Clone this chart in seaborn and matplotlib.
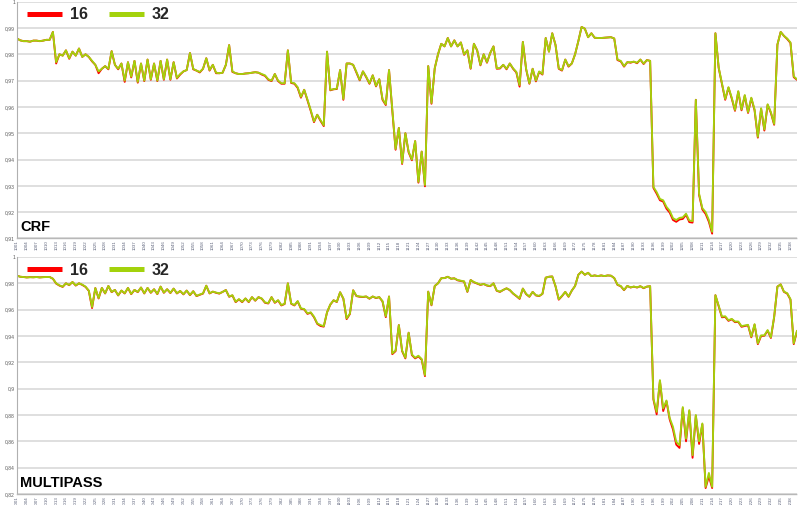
import matplotlib
matplotlib.use("Agg")
import matplotlib.pyplot as plt
from matplotlib.lines import Line2D
from matplotlib.font_manager import FontProperties
import seaborn as sns
import pandas as pd

# ---------------- data ----------------
frames = list(range(1001, 1241))
series_names = ["16", "32"]

crf_32 = [
    0.986, 0.9853, 0.985, 0.985, 0.9848, 0.9852, 0.9852, 0.985, 0.9852, 0.9855,
    0.9855, 0.9885, 0.977, 0.980, 0.9795, 0.9815, 0.9785, 0.981, 0.9795, 0.9822,
    0.979, 0.980, 0.979, 0.9775, 0.976, 0.9735, 0.9745, 0.9755, 0.9745, 0.9812,
    0.976, 0.9745, 0.9765, 0.970, 0.977, 0.9715, 0.9775, 0.9695, 0.9765, 0.970,
    0.978, 0.9705, 0.9765, 0.970, 0.9775, 0.9705, 0.978, 0.9705, 0.977, 0.971,
    0.9725, 0.9735, 0.974, 0.9805, 0.9745, 0.9738, 0.9733, 0.9745, 0.9785, 0.974,
    0.976, 0.973, 0.9728, 0.973, 0.976, 0.9835, 0.9735, 0.9728, 0.9725, 0.9725,
    0.9727, 0.9728, 0.973, 0.9732, 0.973, 0.9725, 0.972, 0.9705, 0.970, 0.9725,
    0.970, 0.969, 0.969, 0.9815, 0.9693, 0.969, 0.9675, 0.9638, 0.9665, 0.9628,
    0.9588, 0.9545, 0.957, 0.955, 0.953, 0.981, 0.9665, 0.9667, 0.967, 0.974,
    0.963, 0.9765, 0.9765, 0.976, 0.9733, 0.9703, 0.9735, 0.9715, 0.969, 0.972,
    0.968, 0.9705, 0.963, 0.961, 0.974, 0.9588, 0.944, 0.952, 0.9386, 0.950,
    0.943, 0.940, 0.947, 0.9315, 0.943, 0.9303, 0.9755, 0.9615, 0.9747, 0.980,
    0.984, 0.983, 0.9862, 0.983, 0.9853, 0.983, 0.9845, 0.980, 0.9815, 0.9747,
    0.984, 0.9815, 0.976, 0.980, 0.977, 0.9805, 0.983, 0.9747, 0.9748, 0.976,
    0.9745, 0.9765, 0.9747, 0.9733, 0.9683, 0.9847, 0.9745, 0.969, 0.9745, 0.970,
    0.9735, 0.9725, 0.9862, 0.981, 0.988, 0.9836, 0.9747, 0.974, 0.978, 0.9755,
    0.9765, 0.980, 0.985, 0.9904, 0.9897, 0.9865, 0.988, 0.9863, 0.9862, 0.9862,
    0.9863, 0.9864, 0.9865, 0.986, 0.978, 0.9775, 0.9755, 0.977, 0.977, 0.9772,
    0.9768, 0.978, 0.9765, 0.9778, 0.9775, 0.9296, 0.9276, 0.925, 0.9245, 0.922,
    0.9205, 0.9177, 0.917, 0.9178, 0.918, 0.9194, 0.9168, 0.9166, 0.9627, 0.927,
    0.9215, 0.920, 0.917, 0.9125, 0.988, 0.975, 0.969, 0.963, 0.9675, 0.9635,
    0.9588, 0.966, 0.959, 0.9645, 0.958, 0.9635, 0.959, 0.9486, 0.9595, 0.9514,
    0.961, 0.958, 0.9535, 0.9837, 0.9885, 0.987, 0.986, 0.9845, 0.9716, 0.9705,
]

crf_16 = [
    0.986, 0.9853, 0.985, 0.985, 0.9848, 0.9852, 0.9852, 0.985, 0.9852, 0.9855,
    0.9855, 0.9885, 0.9765, 0.980, 0.9795, 0.9815, 0.9783, 0.981, 0.9795, 0.9822,
    0.979, 0.980, 0.979, 0.9773, 0.976, 0.9728, 0.9745, 0.9755, 0.9743, 0.9812,
    0.976, 0.9743, 0.9765, 0.9695, 0.977, 0.9712, 0.9775, 0.9692, 0.9765, 0.9698,
    0.978, 0.9703, 0.9765, 0.9698, 0.9775, 0.9703, 0.978, 0.9703, 0.977, 0.9708,
    0.9723, 0.9735, 0.974, 0.9805, 0.9743, 0.9738, 0.9731, 0.9745, 0.9785, 0.9738,
    0.976, 0.9728, 0.9728, 0.973, 0.976, 0.9835, 0.9733, 0.9728, 0.9725, 0.9725,
    0.9727, 0.9728, 0.973, 0.9732, 0.973, 0.9723, 0.9718, 0.9703, 0.9698, 0.9725,
    0.9698, 0.9688, 0.9688, 0.9815, 0.9691, 0.9688, 0.9672, 0.9635, 0.9665, 0.9625,
    0.9585, 0.9542, 0.957, 0.9547, 0.9527, 0.981, 0.9663, 0.9667, 0.9668, 0.974,
    0.9627, 0.9765, 0.9765, 0.976, 0.9731, 0.9701, 0.9735, 0.9713, 0.9688, 0.972,
    0.9678, 0.9705, 0.9627, 0.9607, 0.974, 0.9585, 0.9437, 0.952, 0.9383, 0.950,
    0.9427, 0.9397, 0.947, 0.9312, 0.943, 0.9298, 0.9755, 0.9612, 0.9747, 0.980,
    0.984, 0.983, 0.9862, 0.983, 0.9853, 0.983, 0.9845, 0.9798, 0.9815, 0.9745,
    0.984, 0.9815, 0.9758, 0.980, 0.9768, 0.9805, 0.983, 0.9745, 0.9746, 0.976,
    0.9743, 0.9765, 0.9745, 0.9731, 0.9677, 0.9847, 0.9743, 0.9688, 0.9745, 0.9697,
    0.9733, 0.9723, 0.9862, 0.981, 0.988, 0.9836, 0.9745, 0.9738, 0.978, 0.9753,
    0.9765, 0.980, 0.985, 0.9904, 0.9897, 0.9865, 0.988, 0.9863, 0.9862, 0.9862,
    0.9863, 0.9864, 0.9865, 0.986, 0.9778, 0.9773, 0.9753, 0.977, 0.9768, 0.9772,
    0.9766, 0.978, 0.9763, 0.9778, 0.9775, 0.9292, 0.927, 0.9245, 0.924, 0.9213,
    0.9198, 0.917, 0.9163, 0.9172, 0.9174, 0.919, 0.9162, 0.916, 0.9627, 0.9265,
    0.921, 0.9193, 0.9163, 0.9118, 0.988, 0.9748, 0.9688, 0.9627, 0.9673, 0.9632,
    0.9585, 0.9658, 0.9587, 0.9643, 0.9577, 0.9633, 0.9587, 0.9483, 0.9593, 0.951,
    0.9608, 0.9577, 0.9532, 0.9837, 0.9885, 0.987, 0.9858, 0.9843, 0.9713, 0.9703,
]

mp_32 = [
    0.9858, 0.985, 0.9848, 0.9845, 0.9847, 0.9846, 0.9848, 0.9845, 0.9847, 0.9848,
    0.9848, 0.9835, 0.980, 0.9785, 0.9775, 0.980, 0.9788, 0.981, 0.9785, 0.980,
    0.979, 0.9775, 0.9745, 0.962, 0.9764, 0.9688, 0.9765, 0.9725, 0.978, 0.9735,
    0.975, 0.971, 0.9745, 0.9725, 0.9765, 0.972, 0.975, 0.9735, 0.9768, 0.9725,
    0.9765, 0.973, 0.9755, 0.972, 0.9775, 0.973, 0.9755, 0.9728, 0.976, 0.9725,
    0.9742, 0.9718, 0.9745, 0.9712, 0.974, 0.9705, 0.9715, 0.9724, 0.9782, 0.9725,
    0.9737, 0.973, 0.9724, 0.9735, 0.9749, 0.970, 0.971, 0.966, 0.968, 0.966,
    0.9685, 0.966, 0.9695, 0.967, 0.9695, 0.9685, 0.9655, 0.965, 0.9695, 0.9655,
    0.9672, 0.9635, 0.9645, 0.980, 0.9648, 0.9635, 0.9665, 0.961, 0.9605, 0.9572,
    0.958, 0.9547, 0.9496, 0.9483, 0.9475, 0.958, 0.964, 0.9671, 0.966, 0.9732,
    0.9685, 0.9534, 0.957, 0.9747, 0.9705, 0.970, 0.9698, 0.970, 0.9685, 0.970,
    0.969, 0.9695, 0.9665, 0.955, 0.970, 0.9268, 0.929, 0.9483, 0.929, 0.9235,
    0.9425, 0.926, 0.9235, 0.925, 0.9225, 0.9103, 0.9737, 0.9636, 0.978, 0.980,
    0.9839, 0.984, 0.985, 0.9835, 0.9838, 0.9825, 0.982, 0.9815, 0.9737, 0.9825,
    0.981, 0.980, 0.979, 0.9795, 0.9785, 0.978, 0.980, 0.9745, 0.9737, 0.975,
    0.9762, 0.975, 0.9724, 0.9705, 0.9686, 0.976, 0.972, 0.970, 0.9735, 0.971,
    0.9705, 0.972, 0.9843, 0.985, 0.9852, 0.978, 0.968, 0.9705, 0.9735, 0.970,
    0.9745, 0.978, 0.9865, 0.9889, 0.9865, 0.988, 0.9855, 0.986, 0.9855, 0.986,
    0.9855, 0.986, 0.9858, 0.984, 0.979, 0.978, 0.975, 0.978, 0.977, 0.9775,
    0.977, 0.9778, 0.9765, 0.9775, 0.9778, 0.8926, 0.8824, 0.9065, 0.885, 0.891,
    0.8776, 0.871, 0.8596, 0.8571, 0.886, 0.862, 0.8837, 0.8495, 0.880, 0.860,
    0.8736, 0.8254, 0.836, 0.8254, 0.971, 0.963, 0.9547, 0.955, 0.952, 0.953,
    0.951, 0.951, 0.9475, 0.948, 0.9485, 0.9395, 0.949, 0.9344, 0.9405, 0.9405,
    0.9445, 0.939, 0.9547, 0.9775, 0.9792, 0.9737, 0.9725, 0.968, 0.9344, 0.944,
]

mp_16 = [
    0.9858, 0.985, 0.9848, 0.9845, 0.9847, 0.9846, 0.9848, 0.9845, 0.9847, 0.9848,
    0.9848, 0.9835, 0.9798, 0.9783, 0.9773, 0.980, 0.9786, 0.981, 0.9783, 0.980,
    0.9788, 0.9773, 0.9743, 0.9612, 0.9764, 0.9685, 0.9765, 0.9723, 0.978, 0.9733,
    0.975, 0.9708, 0.9745, 0.9723, 0.9765, 0.9718, 0.975, 0.9733, 0.9768, 0.9723,
    0.9765, 0.9728, 0.9755, 0.9718, 0.9775, 0.9728, 0.9755, 0.9726, 0.976, 0.9723,
    0.9742, 0.9716, 0.9745, 0.971, 0.974, 0.9703, 0.9713, 0.9722, 0.9782, 0.9723,
    0.9737, 0.9728, 0.9722, 0.9735, 0.9749, 0.9698, 0.9708, 0.9657, 0.9678, 0.9657,
    0.9685, 0.9657, 0.9695, 0.9668, 0.9695, 0.9683, 0.9652, 0.9647, 0.9695, 0.9652,
    0.967, 0.9632, 0.9643, 0.980, 0.9645, 0.9632, 0.9663, 0.9607, 0.9602, 0.9568,
    0.9577, 0.9543, 0.9492, 0.9476, 0.9471, 0.958, 0.9638, 0.9671, 0.9658, 0.9732,
    0.9683, 0.9528, 0.9567, 0.9747, 0.9703, 0.9698, 0.9696, 0.970, 0.9683, 0.970,
    0.9688, 0.9695, 0.9662, 0.9543, 0.970, 0.9262, 0.9285, 0.9483, 0.9285, 0.923,
    0.9425, 0.9255, 0.923, 0.9245, 0.922, 0.9095, 0.9737, 0.9633, 0.978, 0.980,
    0.9839, 0.984, 0.985, 0.9835, 0.9838, 0.9823, 0.9818, 0.9813, 0.9735, 0.9825,
    0.9808, 0.9798, 0.9788, 0.9795, 0.9783, 0.9778, 0.980, 0.9743, 0.9735, 0.975,
    0.9762, 0.9748, 0.9722, 0.9703, 0.9682, 0.976, 0.9718, 0.9698, 0.9735, 0.9708,
    0.9703, 0.972, 0.9843, 0.985, 0.9852, 0.9778, 0.9676, 0.9703, 0.9735, 0.9698,
    0.9745, 0.978, 0.9865, 0.9889, 0.9865, 0.988, 0.9855, 0.986, 0.9855, 0.986,
    0.9855, 0.986, 0.9858, 0.984, 0.9788, 0.9778, 0.9748, 0.978, 0.9768, 0.9775,
    0.9768, 0.9778, 0.9763, 0.9775, 0.9778, 0.8918, 0.8805, 0.9058, 0.883, 0.8905,
    0.8765, 0.869, 0.8575, 0.855, 0.8852, 0.860, 0.883, 0.8475, 0.8795, 0.858,
    0.873, 0.8245, 0.8335, 0.8245, 0.971, 0.9627, 0.9542, 0.9545, 0.9515, 0.9527,
    0.9505, 0.9507, 0.947, 0.9476, 0.9481, 0.939, 0.9486, 0.9338, 0.94, 0.9402,
    0.944, 0.9385, 0.9543, 0.9775, 0.9792, 0.9735, 0.9722, 0.9676, 0.9338, 0.9437,
]

crf_yticks = [0.91, 0.92, 0.93, 0.94, 0.95, 0.96, 0.97, 0.98, 0.99, 1.0]
crf_ylabels = ["0,91", "0,92", "0,93", "0,94", "0,95", "0,96", "0,97", "0,98", "0,99", "1"]
mp_yticks = [0.82, 0.84, 0.86, 0.88, 0.90, 0.92, 0.94, 0.96, 0.98, 1.0]
mp_ylabels = ["0,82", "0,84", "0,86", "0,88", "0,9", "0,92", "0,94", "0,96", "0,98", "1"]
panel_titles = ["CRF", "MULTIPASS"]

# ---------------- style ----------------
sns.set_style("white")
plt.rcParams["font.family"] = ["Liberation Sans", "DejaVu Sans"]

colors = {"16": "#ff0000", "32": "#a3d20c"}

fig = plt.figure(figsize=(8, 5.05), dpi=100)
ax1 = fig.add_axes([17 / 800, 1 - 238.4 / 505, 780 / 800, 236.7 / 505])
ax2 = fig.add_axes([17 / 800, 1 - 494 / 505, 780 / 800, 237 / 505])


def make_df(s16, s32):
    return pd.DataFrame({
        "frame": frames * 2,
        "ssim": list(s16) + list(s32),
        "preset": ["16"] * len(frames) + ["32"] * len(frames),
    })


panels = [
    (ax1, make_df(crf_16, crf_32), crf_yticks, crf_ylabels, (0.91, 1.0), panel_titles[0], 0.944),
    (ax2, make_df(mp_16, mp_32), mp_yticks, mp_ylabels, (0.82, 1.0), panel_titles[1], 0.945),
]

leg_font = FontProperties(family=["Liberation Sans", "DejaVu Sans"], weight="bold", size=11.5)
title_font = FontProperties(family=["Liberation Sans", "DejaVu Sans"], weight="bold", size=10.5)

for ax, df, yt, yl, ylim, title, leg_y in panels:
    sns.lineplot(data=df, x="frame", y="ssim", hue="preset",
                 hue_order=series_names, palette=colors,
                 linewidth=1.35, legend=False, ax=ax)
    ax.set_xlim(frames[0], frames[-1])
    ax.set_ylim(*ylim)
    ax.set_yticks(yt)
    ax.set_yticklabels(yl, fontsize=3.6, color="#5a5a5a")
    ax.set_xticks(frames[::3])
    ax.set_xticklabels([str(f) for f in frames[::3]], rotation=90,
                       fontsize=3.2, color="#5a6078")
    ax.tick_params(axis="both", length=0, pad=1.5)
    ax.set_xlabel("")
    ax.set_ylabel("")
    ax.grid(axis="y", color="#d9d9d9", linewidth=1.2)
    ax.grid(axis="x", visible=False)
    ax.set_axisbelow(True)
    for side in ["top", "right"]:
        ax.spines[side].set_visible(False)
    ax.spines["left"].set_color("#b0b0b0")
    ax.spines["left"].set_linewidth(0.8)
    ax.spines["bottom"].set_color("#b8b8b8")
    ax.spines["bottom"].set_linewidth(1.0)
    ax.spines["bottom"].set_linestyle((0, (1, 1)))

    handles = [Line2D([], [], color=colors[n], linewidth=3.6, solid_capstyle="butt")
               for n in series_names]
    ax.legend(handles, series_names, loc="center left",
              bbox_to_anchor=(0.0125, leg_y), ncol=2, frameon=False,
              handlelength=2.2, handletextpad=0.5, columnspacing=1.3,
              borderpad=0.0, borderaxespad=0.0, prop=leg_font)
    ax.text(0.004, 0.018, title, transform=ax.transAxes,
            fontproperties=title_font, color="black", ha="left", va="bottom")

fig.savefig("out.png", dpi=100)
